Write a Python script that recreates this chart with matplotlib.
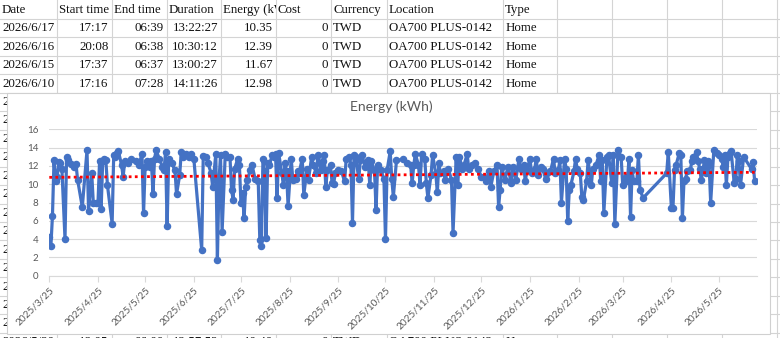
import datetime as dt
import numpy as np
import matplotlib
matplotlib.use("Agg")
import matplotlib.pyplot as plt
import matplotlib.dates as mdates
from matplotlib.lines import Line2D
from matplotlib.patches import Rectangle
from matplotlib.ticker import FuncFormatter
from matplotlib.transforms import Bbox, TransformedBbox

# ---------------- data ----------------
start_date = "2025-03-25"
day_offsets = [
    0, 1, 2, 3, 4, 5, 6, 7, 8, 10, 11, 12, 14, 16, 17, 18, 21, 24, 25, 27, 28, 30, 31, 32, 33, 34, 35, 36, 37,
    40, 41, 42, 43, 44, 46, 47, 48, 50, 52, 55, 57, 59, 60, 61, 62, 64, 65, 66, 67, 68, 70, 72, 73, 74, 75,
    76, 78, 80, 81, 83, 84, 85, 87, 89,
    90, 92, 97, 98, 100, 101, 103, 104, 106, 107, 108, 109, 110, 112, 113, 115, 116, 117, 118, 120, 121,
    122, 123, 124, 125, 126, 128, 129, 131, 133, 134, 135, 136, 137, 138, 139, 140, 142, 143, 144, 145,
    146, 148, 149, 150, 151, 152, 154, 155, 157, 158, 159, 161, 162, 164, 165, 167, 168, 170, 171, 173,
    174, 175, 176, 177, 179, 180,
    181, 182, 184, 186, 188, 189, 191, 192, 193, 194, 195, 197, 198, 199, 201, 203, 204, 205, 207, 208,
    209, 211, 213, 214, 215, 217, 218, 219, 221, 225, 228, 230, 231, 232, 233, 235, 236, 237, 239, 240,
    241, 243, 244, 246, 247, 248, 249, 251, 252, 254, 256, 257, 259, 260, 261, 263, 264, 266, 267, 269, 271,
    273, 275, 277, 278, 280, 281, 283, 285, 286, 287, 288, 290, 292, 294, 295, 297, 299, 300, 302, 303,
    304, 306, 307, 309, 310, 311, 313, 314, 316, 317, 319, 321, 322, 324, 325, 326, 328, 329, 330, 331,
    332, 334, 335, 336, 338, 339, 340, 342, 343, 345, 346, 348, 350, 351, 352, 353, 355, 356, 358, 359,
    360, 362,
    364, 365, 367, 368, 369, 370, 371, 372, 374, 375, 376, 378, 393, 394, 396, 397, 398, 399, 401, 402,
    403, 404, 405, 406, 408, 409, 410, 412, 413, 414, 415, 416, 417, 418, 419, 420, 421, 423, 425, 426,
    428, 429, 430, 431, 432, 433, 434, 436, 437, 438, 439, 440, 442, 447, 448, 449,
]
energy_kwh = [
    4.2, 3.2, 6.5, 12.6, 10.3, 10.8, 12.4, 12.3, 11.7, 4.0, 13.0, 12.6, 12.2, 11.9, 12.2, 10.5, 7.5, 13.7, 7.1,
    11.2, 8.0, 8.0, 8.0, 12.5, 7.3, 12.5, 12.8, 12.6, 9.9,
    5.7, 13.2, 13.0, 13.4, 13.6, 12.1, 10.8, 12.5, 12.3, 12.7, 12.5, 12.1, 13.3, 6.8, 11.9, 12.5, 11.9, 12.5,
    8.9, 12.8, 13.7, 12.8, 11.9, 11.5, 13.5, 5.4,
    12.8, 12.3, 11.5, 8.9, 11.0, 13.5, 13.0, 13.3, 13.0,
    13.3, 12.8, 2.8, 13.1, 13.0, 12.3, 11.2, 9.7, 13.3, 1.7, 10.3, 13.2, 4.8, 13.3, 13.0, 13.0, 9.4, 8.3,
    11.7, 12.8, 12.1,
    7.9, 9.0, 6.3, 9.7, 10.5, 11.5, 12.1, 10.6, 10.3, 3.9, 3.2, 12.8, 11.4, 4.1, 12.3, 12.1, 13.2, 13.0,
    13.3, 8.5,
    13.4, 11.2, 9.9, 12.3, 11.4, 7.6, 12.8, 10.5, 10.6, 11.4, 11.2, 12.8, 8.8, 11.7, 10.5, 13.0, 12.1, 11.2,
    13.2, 11.5,
    12.5, 13.2, 9.7, 11.5, 12.1, 10.1,
    10.0, 11.2, 11.5, 11.4, 10.3, 12.8, 13.0, 12.1, 5.8, 13.2, 13.0, 10.6, 12.6, 13.2, 11.9, 12.6, 9.9, 12.5,
    11.5, 7.2,
    12.1, 11.5, 10.6, 4.0, 11.5, 13.6, 10.6, 8.6, 12.6, 12.7, 12.3, 12.1, 10.1, 12.1, 13.3, 12.1, 9.9, 13.3,
    12.8, 10.1,
    8.5, 11.0, 13.2, 11.2, 9.1, 12.3, 11.2, 11.4, 10.5, 11.7, 10.5, 4.7, 13.0, 9.9, 13.0, 11.7, 12.1, 13.3,
    11.7, 12.1, 12.3,
    11.7, 10.8, 10.8, 10.3, 11.4, 9.7, 11.4, 12.1, 7.5, 9.4, 11.9, 10.5, 11.9, 10.1, 11.9, 10.5, 12.8, 11.7,
    12.1, 10.3,
    11.5, 12.8, 11.2, 11.7, 12.8, 11.0, 11.9, 11.7, 10.6, 11.2, 11.4, 12.8, 11.2, 11.5, 12.6, 8.0, 12.8, 11.7,
    6.0, 9.4,
    9.9, 11.4, 12.8, 11.7, 11.2, 8.6, 8.3, 10.3, 12.6, 9.9, 11.7, 12.1, 13.2, 10.3, 12.6, 6.9, 13.0, 13.2,
    10.1, 13.2,
    5.7, 13.7,
    13.0, 9.9, 10.8, 10.3, 12.8, 6.4, 11.5, 10.3, 10.3, 13.2, 9.4, 8.5, 11.2, 13.5, 7.4, 7.4, 11.5, 12.1,
    13.4, 13.2,
    6.3, 10.3, 10.6, 11.4, 11.5, 12.5, 13.0, 13.5, 12.5, 11.7, 10.5, 11.4, 12.6, 11.2, 12.5, 12.1, 8.0, 13.7,
    13.4, 13.2,
    12.8, 11.9, 13.2, 9.9, 13.0, 13.4, 13.6, 10.1, 10.6, 13.2, 12.5, 9.9, 12.98, 11.67, 12.39, 10.35,
]
# linear trendline end values (first date, last date)
trend_kwh = [10.75, 11.3]
y_ticks = [0, 2, 4, 6, 8, 10, 12, 14, 16]
chart_title = "Energy (kWh)"

# spreadsheet (visible cells)
sheet_header = ["Date", "Start time", "End time", "Duration", "Energy (kWh)", "Cost", "Currency", "Location", "Type"]
sheet_rows = [
    ["2026/6/17", "17:17", "06:39", "13:22:27", "10.35", "0", "TWD", "OA700 PLUS-0142", "Home"],
    ["2026/6/16", "20:08", "06:38", "10:30:12", "12.39", "0", "TWD", "OA700 PLUS-0142", "Home"],
    ["2026/6/15", "17:37", "06:37", "13:00:27", "11.67", "0", "TWD", "OA700 PLUS-0142", "Home"],
    ["2026/6/10", "17:16", "07:28", "14:11:26", "12.98", "0", "TWD", "OA700 PLUS-0142", "Home"],
]
bottom_row = ["2026/5/20", "18:05", "06:00", "12:57:52", "10.40", "0", "TWD", "OA700 PLUS-0142", "Home"]

# ---------------- figure ----------------
W, H = 780, 338
fig = plt.figure(figsize=(W / 100, H / 100), dpi=100)
fig.patch.set_facecolor("white")


def fx(x):
    return x / W


def fy(y):
    return 1 - y / H


def clip_to(t, xa, xb, ya=0, yb=H):
    bb = TransformedBbox(Bbox([[fx(xa), fy(yb)], [fx(xb), fy(ya)]]), fig.transFigure)
    t.set_clip_box(bb)
    t.set_clip_on(True)


# spreadsheet grid
col_lines = [56.7, 111.7, 166.7, 221, 276, 331, 386.7, 503.3, 556.7, 611.7, 666.7, 721.7, 776.7]
col_left = [0, 56.7, 111.7, 166.7, 221, 276, 331, 386.7, 503.3]
col_right = col_lines[:9]
col_align = ["left", "right", "right", "right", "right", "right", "left", "left", "left"]
row_h = 18.45
row_c0 = 9.8
grid_c = "#d4d4d4"
for cx in col_lines:
    fig.add_artist(Line2D([fx(cx), fx(cx)], [0, 1], color=grid_c, lw=0.8, zorder=-3))
for i in range(1, 20):
    yy = row_c0 + row_h * (i - 0.5)
    fig.add_artist(Line2D([0, 1], [fy(yy), fy(yy)], color=grid_c, lw=0.8, zorder=-3))

sheet_font = dict(family="Liberation Serif", fontsize=9.3, color="#111111", zorder=-2)


def put_row(vals, yc):
    for j, v in enumerate(vals):
        if col_align[j] == "left":
            x = col_left[j] + 2
        else:
            x = col_right[j] - 3
        fig.text(fx(x), fy(yc), v, ha=col_align[j], va="center", **sheet_font)


for j, v in enumerate(sheet_header):
    t = fig.text(fx(col_left[j] + 2), fy(row_c0), v, ha="left", va="center", **sheet_font)
    clip_to(t, col_left[j], col_right[j])

for i, r in enumerate(sheet_rows):
    put_row(r, row_c0 + row_h * (i + 1))

# rows behind the chart: only the edge of column A peeks out on the left
base = dt.date.fromisoformat(start_date)
dates = [base + dt.timedelta(days=d) for d in day_offsets]
for i in range(5, 18):
    d = dates[-i]
    t = fig.text(fx(2), fy(row_c0 + row_h * i), f"{d.year}/{d.month}/{d.day}", ha="left", va="center",
                 **sheet_font)
    clip_to(t, 0, 7)
put_row(bottom_row, row_c0 + row_h * 18)

# chart box
fig.add_artist(Rectangle((fx(7), fy(333.5)), (770 - 7) / W, (333.5 - 93) / H, transform=fig.transFigure,
                         facecolor="white", edgecolor="#d0d0d0", lw=0.8, zorder=-1))

# axes
x0, x1, ytop, ybot = 49.3, 756.7, 129.3, 275.7
ax = fig.add_axes([fx(x0), fy(ybot), (x1 - x0) / W, (ybot - ytop) / H])
ax.set_facecolor("white")
ax.plot(dates, energy_kwh, color="#4472C4", lw=2.3, marker="o", ms=4.4, solid_joinstyle="round", zorder=3)

# linear trendline
ax.plot([dates[0], dates[-1]], trend_kwh, color="#FF0000", lw=2.0, linestyle=(0, (1, 1.2)), zorder=4)

ax.set_xlim(mdates.date2num(dates[0]), mdates.date2num(dates[0]) + 450.3)
ax.set_ylim(0, 16)
ax.set_yticks(y_ticks)
ax.grid(axis="y", color="#d9d9d9", lw=0.8)
ax.set_axisbelow(True)
for s in ["left", "right", "top"]:
    ax.spines[s].set_visible(False)
ax.spines["bottom"].set_color("#d9d9d9")
ax.spines["bottom"].set_linewidth(0.8)

ax.xaxis.set_major_locator(mdates.MonthLocator(bymonthday=25))


def fmt_date(v, pos=None):
    d = mdates.num2date(v)
    return f"{d.year}/{d.month}/{d.day}"


ax.xaxis.set_major_formatter(FuncFormatter(fmt_date))
ax.tick_params(axis="x", length=4, color="#d9d9d9", width=0.8, labelsize=7.2, labelcolor="#595959", pad=3)
ax.tick_params(axis="y", length=0, labelsize=7, labelcolor="#595959", pad=8)
for lab in ax.get_xticklabels():
    lab.set_rotation(45)
    lab.set_ha("right")
    lab.set_va("top")
    lab.set_rotation_mode("anchor")
    lab.set_family("Lato")
for lab in ax.get_yticklabels():
    lab.set_family("Lato")

fig.text(fx(391), fy(106.5), chart_title, ha="center", va="center", fontsize=10, color="#595959", family="Lato")

fig.savefig("out.png", dpi=100)
